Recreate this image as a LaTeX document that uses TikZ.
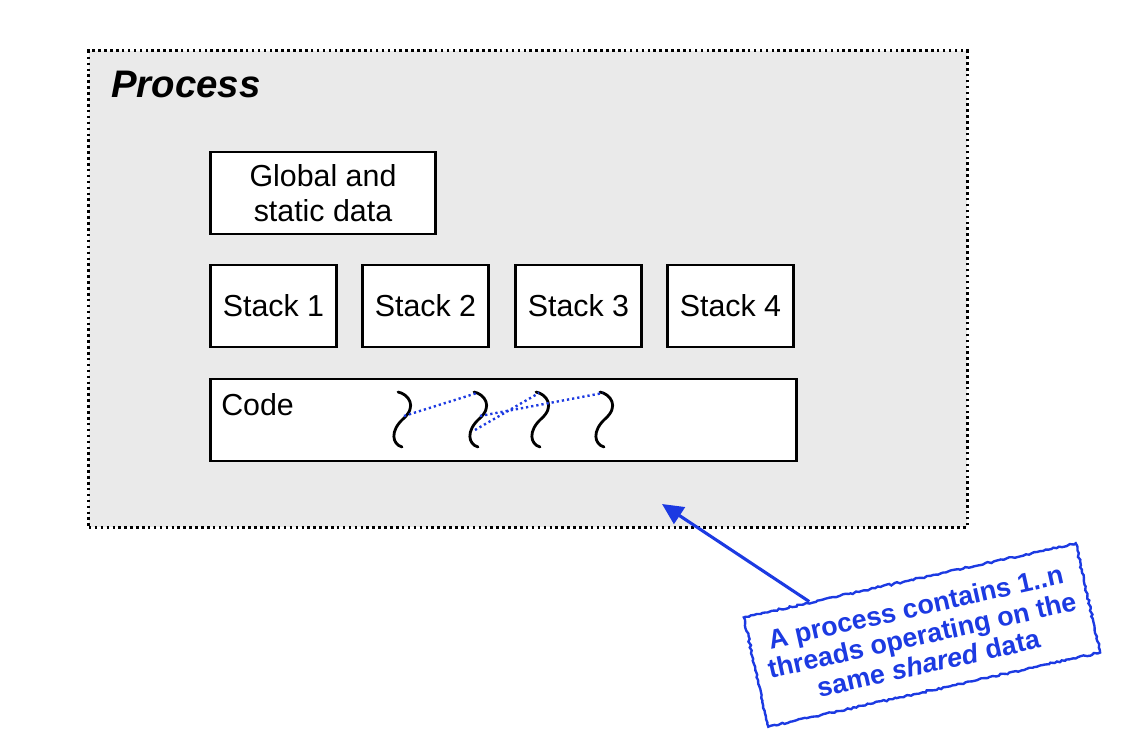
\documentclass[tikz,border=0pt]{standalone}
\usepackage{fontspec}
\setmainfont{Liberation Sans}
\usetikzlibrary{arrows.meta,calc,decorations.pathmorphing}
\definecolor{procgray}{RGB}{234,234,234}
\definecolor{noteblue}{RGB}{28,58,226}
\tikzstyle{box}=[rectangle,draw=black,line width=2.1pt,fill=white,inner sep=0pt,minimum height=2.05cm,font=\fontsize{21.6}{24.5}\selectfont]
\tikzstyle{lbl}=[inner sep=0pt,font=\fontsize{21.6}{24.5}\selectfont]
\tikzstyle{thread}=[line width=2pt,line cap=round]
\tikzstyle{link}=[noteblue,line width=1.7pt,dash pattern=on 1.6pt off 2.1pt]
\tikzstyle{note}=[rectangle,draw=noteblue,line width=1.7pt,text=noteblue,align=center,inner sep=4pt,minimum width=8.5cm,minimum height=2.8cm,font=\bfseries\fontsize{19.1}{20.5}\selectfont,decorate,decoration={random steps,segment length=2pt,amplitude=0.7pt}]

\begin{document}
\begin{tikzpicture}[x=0.025cm,y=-0.025cm]
\useasboundingbox (0,0) rectangle (1121,748);
\node[rectangle,draw=black,fill=procgray,line width=2.2pt,dash pattern=on 1.8pt off 2.4pt,minimum width=21.95cm,minimum height=11.9cm] (proc) at (528,289) {};
\node[anchor=base west,inner sep=0pt,font=\bfseries\itshape\fontsize{27.3}{30}\selectfont] (title) at (111,98) {Process};
\node[box,minimum width=5.6cm,align=center] (global) at (323,193) {Global and\\static data};
\node[box,minimum width=3.13cm] (s1) at (273.5,306) {Stack 1};
\node[box,minimum width=3.13cm] (s2) at (425.5,306) {Stack 2};
\node[box,minimum width=3.13cm] (s3) at (578.5,306) {Stack 3};
\node[box,minimum width=3.13cm] (s4) at (730.5,306) {Stack 4};
\node[box,minimum width=14.63cm] (code) at (503.5,420) {};
\node[lbl,anchor=base west] (codelbl) at (221,415) {Code};
% threads
\foreach \x/\i in {402/1,478/2,540/3,604/4}{
  \draw[thread] (\x-4,392) .. controls (\x+6,394) and (\x+16,406) .. (\x+1,419) .. controls (\x-12,431) and (\x-10,444) .. (\x,447);
  \coordinate (th\i-top) at (\x-1,393);
  \coordinate (th\i-mid) at (\x+2,416);
  \coordinate (th\i-low) at (\x-3,430);
}
\draw[link] (th1-mid) -- (th2-top);
\draw[link] (th2-low) -- (th3-top);
\draw[link] (th2-mid) -- (th4-top);
% note
\node[note,rotate=12.6] (note) at (922,635) {A process contains 1..n\\threads operating on the\\same \textit{shared} data};
\coordinate (tip) at (662,504);
\draw[noteblue,line width=2.2pt,-{Triangle[length=15pt,width=14pt]}] ($(note.north west)!0.2!(note.north east)$) -- (tip);
\end{tikzpicture}
\end{document}
